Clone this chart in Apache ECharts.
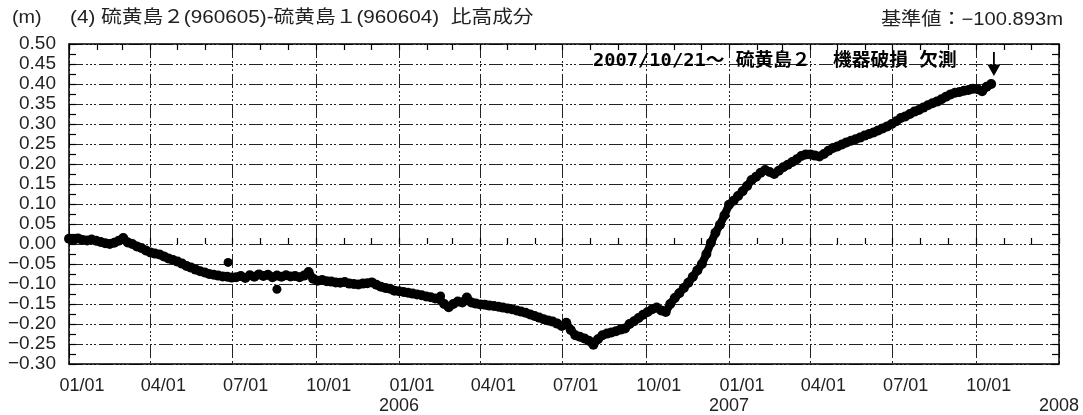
<!DOCTYPE html>
<html>
<head>
<meta charset="utf-8">
<script src="https://cdn.jsdelivr.net/npm/echarts@6/dist/echarts.min.js"></script>
<style>html,body{margin:0;padding:0;background:#fff;}#c{width:1083px;height:415px;}</style>
</head>
<body>
<div id="c"></div>
<script>
// Sampled every 5 days starting 2005-01-01 (values in m)
const startDate = [2005, 0, 1];
const stepDays = 5;
const values = [
 0.013, 0.011, 0.014, 0.010, 0.009, 0.011, 0.008, 0.005, 0.002, 0.000,
 0.003, 0.008, 0.015, 0.004, 0.000, -0.006, -0.010, -0.016, -0.021, -0.024,
 -0.026, -0.031, -0.036, -0.040, -0.044, -0.049, -0.055, -0.059, -0.064, -0.068,
 -0.071, -0.075, -0.077, -0.079, -0.081, -0.082, -0.084, -0.083, -0.080, -0.085,
 -0.078, -0.082, -0.076, -0.080, -0.077, -0.083, -0.079, -0.082, -0.078, -0.081,
 -0.080, -0.083, -0.079, -0.070, -0.087, -0.092, -0.090, -0.093, -0.094, -0.096,
 -0.097, -0.095, -0.099, -0.100, -0.101, -0.099, -0.098, -0.096, -0.102, -0.107,
 -0.110, -0.112, -0.117, -0.118, -0.120, -0.122, -0.124, -0.126, -0.128, -0.131,
 -0.133, -0.136, -0.138, -0.150, -0.158, -0.150, -0.144, -0.146, -0.134, -0.146,
 -0.149, -0.151, -0.152, -0.154, -0.155, -0.157, -0.159, -0.161, -0.163, -0.166,
 -0.169, -0.172, -0.176, -0.180, -0.184, -0.188, -0.191, -0.194, -0.199, -0.205,
 -0.197, -0.215, -0.228, -0.232, -0.236, -0.242, -0.252, -0.238, -0.228, -0.224,
 -0.221, -0.218, -0.214, -0.211, -0.200, -0.193, -0.185, -0.177, -0.170, -0.163,
 -0.159, -0.166, -0.170, -0.150, -0.135, -0.123, -0.110, -0.097, -0.082, -0.066,
 -0.050, -0.025, 0.003, 0.028, 0.048, 0.072, 0.098, 0.108, 0.120, 0.132,
 0.145, 0.160, 0.168, 0.178, 0.185, 0.180, 0.175, 0.183, 0.192, 0.198,
 0.205, 0.212, 0.220, 0.224, 0.224, 0.221, 0.219, 0.225, 0.233, 0.240,
 0.244, 0.249, 0.254, 0.258, 0.262, 0.266, 0.271, 0.275, 0.279, 0.284,
 0.289, 0.294, 0.300, 0.307, 0.315, 0.319, 0.325, 0.331, 0.335, 0.341,
 0.347, 0.352, 0.356, 0.362, 0.368, 0.374, 0.378, 0.380, 0.383, 0.385,
 0.388, 0.387, 0.382, 0.393, 0.400
];
const outlierDays = [176, 230, 411];
const outlierValues = [-0.046, -0.113, -0.130];
const yTicks = { min: -0.30, max: 0.50, step: 0.05 };
const xRange = ['2005-01-01', '2008-01-01'];
const missingDate = '2007-10-21';
const arrowValue = 0.45;

function dayToTime(d) { return new Date(startDate[0], startDate[1], startDate[2] + d).getTime(); }
const mainData = values.map((v, i) => [dayToTime(i * stepDays), v]);
const outData = outlierDays.map((d, i) => [dayToTime(d), outlierValues[i]]);

const chart = echarts.init(document.getElementById('c'));
const FONT = "'Liberation Sans', 'Noto Sans CJK JP', sans-serif";
const gridDash = [14, 3, 2, 2, 2, 2, 2, 3];
const pad2 = n => (n < 10 ? '0' : '') + n;

chart.setOption({
  animation: false,
  grid: { left: 69, right: 24, top: 44, bottom: 51 },
  xAxis: [
    {
      type: 'time', position: 'bottom', min: xRange[0], max: xRange[1], splitNumber: 12,
      axisLine: { show: true, onZero: false, lineStyle: { color: '#000', width: 1.5 } },
      axisTick: { show: false },
      splitLine: { show: true, lineStyle: { color: '#222', width: 1, type: gridDash } },
      axisLabel: {
        show: true, interval: 0, showMinLabel: true, showMaxLabel: true, hideOverlap: false,
        margin: 12, color: '#222', fontFamily: FONT, fontSize: 18, align: 'center', verticalAlign: 'top',
        formatter: function (val) {
          const d = new Date(val); const m = d.getMonth() + 1; const y = d.getFullYear();
          const md = pad2(m) + '/' + pad2(d.getDate());
          if (y >= 2008) return '{md| }\n{yr|' + y + '}';
          if (m === 1 && y > 2005) return '{md|' + md + '}\n{yr|' + y + '}';
          return '{md|' + md + '}';
        },
        rich: {
          md: { fontFamily: FONT, fontSize: 18, color: '#222', lineHeight: 20, padding: [0, 0, 0, 26] },
          yr: { fontFamily: FONT, fontSize: 18, color: '#222', lineHeight: 20 }
        }
      }
    },
    {
      type: 'time', position: 'bottom', min: xRange[0], max: xRange[1], splitNumber: 36,
      axisLine: { show: false }, axisLabel: { show: false }, splitLine: { show: false },
      axisTick: { show: true, inside: true, length: 6, lineStyle: { color: '#000', width: 1.2 } }
    },
    {
      type: 'time', position: 'top', min: xRange[0], max: xRange[1], splitNumber: 36,
      axisLine: { show: true, onZero: false, lineStyle: { color: '#000', width: 1.5 } },
      axisLabel: { show: false }, splitLine: { show: false },
      axisTick: { show: true, inside: true, length: 6, lineStyle: { color: '#000', width: 1.2 } }
    }
  ],
  yAxis: [
    {
      type: 'value', position: 'left', min: yTicks.min, max: yTicks.max, interval: yTicks.step,
      axisLine: { show: true, onZero: false, lineStyle: { color: '#000', width: 1.5 } },
      axisTick: { show: true, inside: true, length: 7, lineStyle: { color: '#000', width: 1.2 } },
      minorTick: { show: true, splitNumber: 2, length: 7, lineStyle: { color: '#000', width: 1.2 } },
      splitLine: { show: true, lineStyle: { color: '#222', width: 1, type: gridDash } },
      axisLabel: {
        margin: 13, color: '#222', fontFamily: FONT, fontSize: 19,
        formatter: v => (v < 0 ? '\u2212' : '') + Math.abs(v).toFixed(2)
      }
    },
    {
      type: 'value', position: 'right', min: yTicks.min, max: yTicks.max, interval: yTicks.step,
      axisLine: { show: true, onZero: false, lineStyle: { color: '#000', width: 1.5 } },
      axisTick: { show: true, inside: true, length: 7, lineStyle: { color: '#000', width: 1.2 } },
      minorTick: { show: true, splitNumber: 2, length: 7, lineStyle: { color: '#000', width: 1.2 } },
      splitLine: { show: false }, axisLabel: { show: false }
    }
  ],
  series: [
    {
      type: 'line', xAxisIndex: 0, yAxisIndex: 0, data: mainData, showSymbol: false, symbol: 'none',
      lineStyle: { color: '#000', width: 8, join: 'round', cap: 'round' }, z: 2
    },
    {
      type: 'scatter', xAxisIndex: 0, yAxisIndex: 0, data: mainData,
      symbol: 'circle', symbolSize: 10, itemStyle: { color: '#000', opacity: 1 }, z: 3,
      markPoint: {
        symbol: 'path://M4.3,0 L5.7,0 L5.7,12 L10,12 L5,23 L0,12 L4.3,12 Z',
        symbolSize: [13, 24], itemStyle: { color: '#000' }, label: { show: false },
        data: [{ coord: [new Date(missingDate + 'T00:00:00').getTime(), arrowValue] }]
      }
    },
    {
      type: 'scatter', xAxisIndex: 0, yAxisIndex: 0, data: outData, z: 3,
      symbol: 'circle', symbolSize: 9, itemStyle: { color: '#000', opacity: 1 }
    }
  ],
  graphic: [
    { type: 'text', x: 12, y: 18, scaleX: 1.1, style: { text: '(m)', font: '18px ' + FONT, fill: '#222', verticalAlign: 'middle' } },
    { type: 'text', x: 70, y: 18, scaleX: 1.15, style: { text: '(4) 硫黄島２(960605)-硫黄島１(960604)  比高成分', font: '18px ' + FONT, fill: '#222', verticalAlign: 'middle' } },
    { type: 'text', x: 1063, y: 20, scaleX: 1.12, style: { text: '基準値：\u2212100.893m', font: '18px ' + FONT, fill: '#222', align: 'right', verticalAlign: 'middle' } },
    { type: 'text', x: 593, y: 61, scaleX: 1.04, z: 100, style: { text: '2007/10/21～ 硫黄島２  機器破損 欠測', font: "bold 18px 'DejaVu Sans Mono', 'Noto Sans CJK JP', monospace", fill: '#000', verticalAlign: 'middle' } }
  ]
});
</script>
</body>
</html>
